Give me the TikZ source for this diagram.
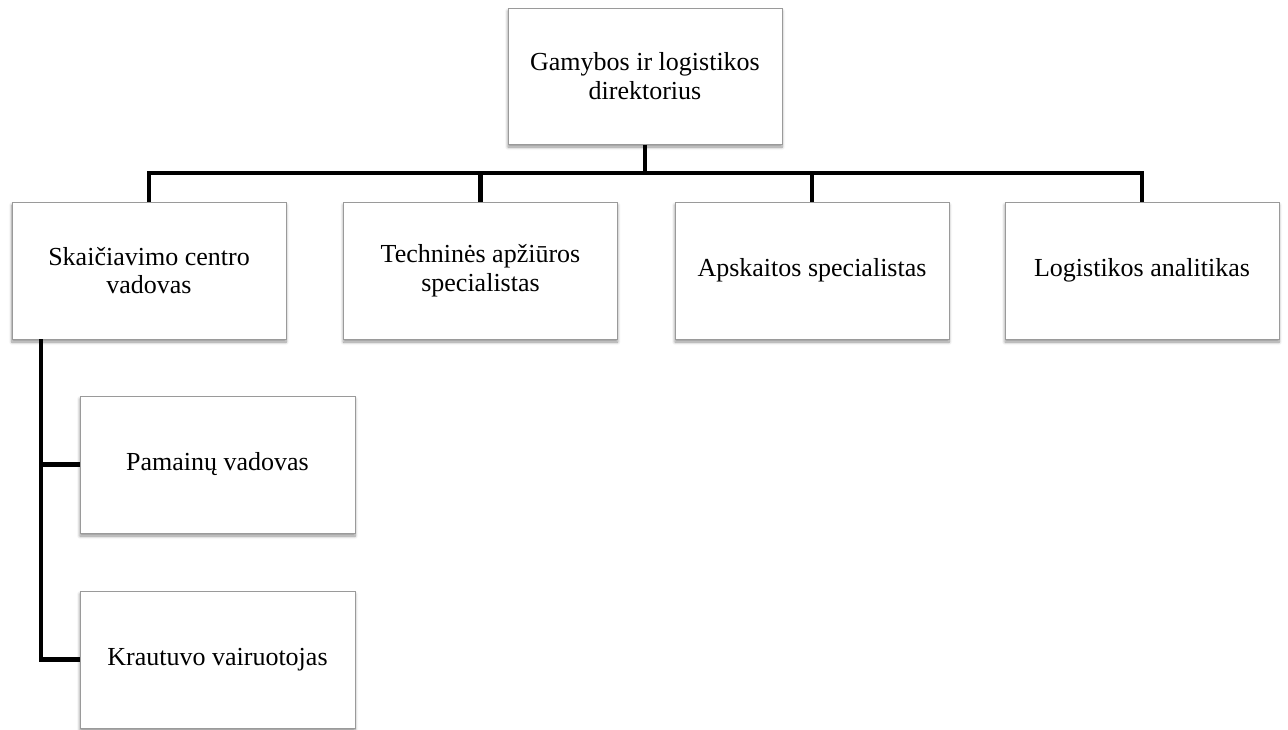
\documentclass[tikz,border=0pt]{standalone}
\usepackage{fontspec}
\setmainfont{Liberation Serif}
\usetikzlibrary{shadows.blur,calc}
\definecolor{boxborder}{HTML}{9A9A9A}
\tikzset{
  orgbox/.style={draw=boxborder, line width=1pt, fill=white, align=center,
    inner sep=4pt, font=\fontsize{26}{28.5}\selectfont,
    blur shadow={shadow xshift=0pt, shadow yshift=-3pt, shadow blur radius=3pt, shadow blur steps=6, shadow opacity=45}},
  link/.style={line width=4.2pt, black, line join=miter}
}
\begin{document}
\begin{tikzpicture}[x=1pt,y=-1pt]
\useasboundingbox (0,0) rectangle (1288,729);
\node[orgbox, minimum width=274pt, minimum height=136pt] (top) at (645,76) {Gamybos ir logistikos\\direktorius};
\node[orgbox, minimum width=274pt, minimum height=137pt] (a) at (149,270.5) {Skaičiavimo centro\\vadovas};
\node[orgbox, minimum width=274pt, minimum height=137pt] (b) at (480.5,270.5) {Techninės apžiūros\\specialistas};
\node[orgbox, minimum width=274pt, minimum height=137pt] (c) at (812,270.5) {Apskaitos specialistas};
\node[orgbox, minimum width=274pt, minimum height=137pt] (d) at (1142,270.5) {Logistikos analitikas};
\node[orgbox, minimum width=275pt, minimum height=137pt] (p) at (217.5,464.5) {Pamainų vadovas};
\node[orgbox, minimum width=275pt, minimum height=137pt] (k) at (217.5,659.5) {Krautuvo vairuotojas};
\coordinate (bus) at (645,173);
\coordinate (spine) at (41,339);
\draw[link] (top.south) -- (bus);
\draw[link] (a.north) -- (a.north |- bus) -- (d.north |- bus) -- (d.north);
\draw[link] (b.north) -- (b.north |- bus);
\draw[link] (c.north) -- (c.north |- bus);
\draw[link] (spine) -- (spine |- k.west) -- (k.west);
\draw[link] (spine |- p.west) -- (p.west);
\end{tikzpicture}
\end{document}
